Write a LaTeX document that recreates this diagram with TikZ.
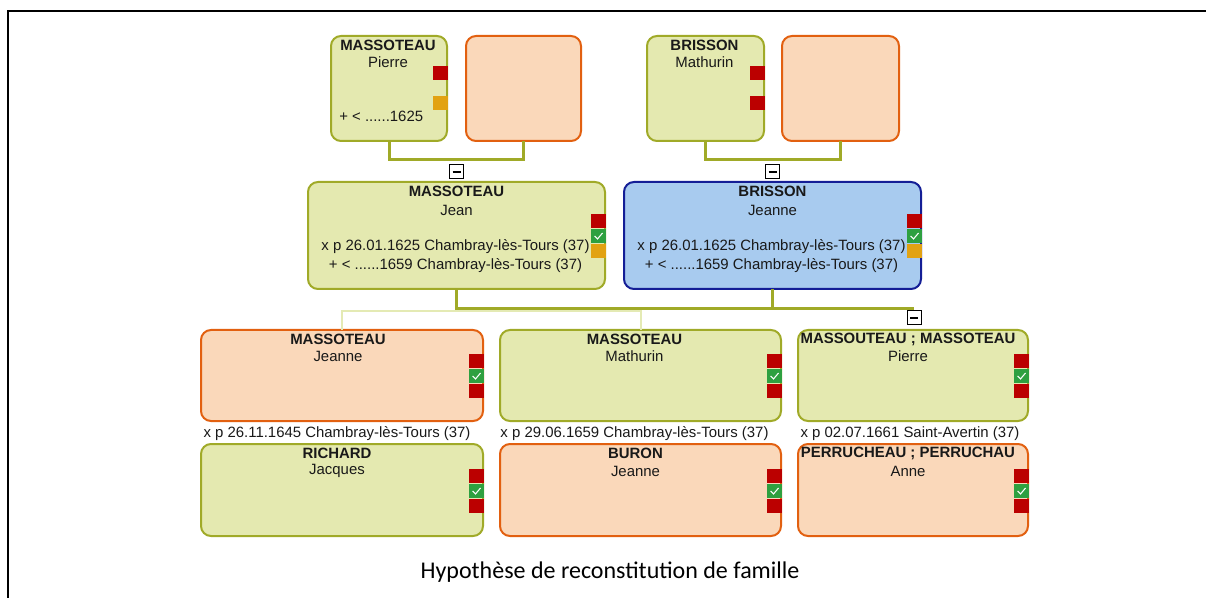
\documentclass[tikz,border=0pt]{standalone}
\usepackage{fontspec}
\setmainfont{Liberation Sans}
\newfontfamily\capfont{Carlito}
\usetikzlibrary{calc}
\definecolor{gfill}{RGB}{228,233,176}
\definecolor{gline}{RGB}{160,170,40}
\definecolor{ofill}{RGB}{250,216,186}
\definecolor{oline}{RGB}{226,96,16}
\definecolor{bfill}{RGB}{168,203,239}
\definecolor{bline}{RGB}{20,30,150}
\definecolor{mred}{RGB}{187,0,0}
\definecolor{mgreen}{RGB}{46,160,64}
\definecolor{morange}{RGB}{226,162,18}
\definecolor{pale}{RGB}{228,234,180}
\definecolor{txt}{RGB}{25,25,25}
\newcommand\famMk[4]{\node[#4] (#2) at ($(#1.north east)+(1,#3)$) {};}
\newcommand\famChk[1]{\draw[chk] ($(#1.center)+(-4,0)$) -- ($(#1.center)+(-1,3)$) -- ($(#1.center)+(4,-3)$);}
\begin{document}
\begin{tikzpicture}[x=0.75pt,y=-0.75pt,
  fbox/.style={rectangle, rounded corners=7.5pt, line width=1.5pt, outer sep=0pt, inner sep=0pt, anchor=north west},
  gbox/.style={fbox, draw=gline, fill=gfill},
  obox/.style={fbox, draw=oline, fill=ofill},
  bbox/.style={fbox, draw=bline, fill=bfill},
  sname/.style={font=\fontsize{11.2}{12}\selectfont\bfseries, text=txt, inner sep=0pt},
  fname/.style={font=\fontsize{11.2}{12}\selectfont, text=txt, inner sep=0pt},
  evt/.style={font=\fontsize{11.2}{14.2}\selectfont, text=txt, inner sep=0pt, align=center},
  mk/.style={rectangle, minimum width=15*0.75pt, minimum height=14*0.75pt, inner sep=0pt, outer sep=0pt, anchor=north east},
  mkr/.style={mk, fill=mred},
  mkg/.style={mk, fill=mgreen},
  mko/.style={mk, fill=morange},
  chk/.style={white, line width=0.8pt},
  conn/.style={draw=gline, line width=2.25pt},
  paleconn/.style={draw=pale, line width=1.5pt},
  minus/.style={draw=black, fill=white, line width=0.75pt, minimum size=14*0.75pt, inner sep=0pt, outer sep=0pt}
]
\useasboundingbox (0,0) rectangle (1206,598);
% frame
\draw[line width=1.5pt] (8,598) -- (8,11) -- (1206,11);

% generation 1
\node[gbox, minimum width=116*0.75pt, minimum height=105*0.75pt] (pierre) at (331,36) {};
\node[obox, minimum width=115*0.75pt, minimum height=105*0.75pt] (pierreW) at (466,36) {};
\node[gbox, minimum width=117*0.75pt, minimum height=105*0.75pt] (mathB) at (647,36) {};
\node[obox, minimum width=117*0.75pt, minimum height=105*0.75pt] (mathBW) at (782,36) {};

\node[sname] (pierre-s) at ($(pierre.north)+(-1,9)$) {MASSOTEAU};
\node[fname] (pierre-f) at ($(pierre.north)+(-1,26)$) {Pierre};
\node[fname, anchor=west] (pierre-e) at ($(pierre.north west)+(8,80)$) {+ < ......1625};
\famMk{pierre}{pierre-m1}{30}{mkr}
\famMk{pierre}{pierre-m2}{60}{mko}

\node[sname] (mathB-s) at ($(mathB.north)+(-1,9)$) {BRISSON};
\node[fname] (mathB-f) at ($(mathB.north)+(-1,26)$) {Mathurin};
\famMk{mathB}{mathB-m1}{30}{mkr}
\famMk{mathB}{mathB-m2}{60}{mkr}

% generation 2
\node[gbox, minimum width=297*0.75pt, minimum height=107*0.75pt] (jean) at (308,182) {};
\node[bbox, minimum width=297*0.75pt, minimum height=107*0.75pt] (jeanne) at (624,182) {};

\node[sname] (jean-s) at ($(jean.north)+(0,9)$) {MASSOTEAU};
\node[fname] (jean-f) at ($(jean.north)+(0,28)$) {Jean};
\node[evt] (jean-e) at ($(jean.north)+(-1,74)$) {x p 26.01.1625 Chambray-lès-Tours (37)\\+ < ......1659 Chambray-lès-Tours (37)};
\famMk{jean}{jean-m1}{32}{mkr}
\famMk{jean}{jean-m2}{47}{mkg}
\famMk{jean}{jean-m3}{62}{mko}
\famChk{jean-m2}

\node[sname] (jeanne-s) at ($(jeanne.north)+(0,9)$) {BRISSON};
\node[fname] (jeanne-f) at ($(jeanne.north)+(0,28)$) {Jeanne};
\node[evt] (jeanne-e) at ($(jeanne.north)+(-1,74)$) {x p 26.01.1625 Chambray-lès-Tours (37)\\+ < ......1659 Chambray-lès-Tours (37)};
\famMk{jeanne}{jeanne-m1}{32}{mkr}
\famMk{jeanne}{jeanne-m2}{47}{mkg}
\famMk{jeanne}{jeanne-m3}{62}{mko}
\famChk{jeanne-m2}

% connectors generation 1 -> 2
\draw[conn] (pierre.south) -- ++(0,19) -| (pierreW.south);
\draw[conn] (mathB.south) -- ++(0,19) -| (mathBW.south);
\node[minus] (minus1) at ($(jean.north)+(0,-10)$) {\rule{6pt}{0.9pt}};
\node[minus] (minus2) at ($(jeanne.north)+(0,-10)$) {\rule{6pt}{0.9pt}};

% generation 3
\node[obox, minimum width=282*0.75pt, minimum height=91*0.75pt] (c1) at (201,330) {};
\node[gbox, minimum width=281*0.75pt, minimum height=91*0.75pt] (c2) at (500,330) {};
\node[gbox, minimum width=230*0.75pt, minimum height=91*0.75pt] (c3) at (798,330) {};

\node[sname] (c1-s) at ($(c1.north)+(-4,9)$) {MASSOTEAU};
\node[fname] (c1-f) at ($(c1.north)+(-4,26)$) {Jeanne};
\node[sname] (c2-s) at ($(c2.north)+(-6,9)$) {MASSOTEAU};
\node[fname] (c2-f) at ($(c2.north)+(-6,26)$) {Mathurin};
\node[sname] (c3-s) at ($(c3.north)+(-5,9)$) {MASSOUTEAU ; MASSOTEAU};
\node[fname] (c3-f) at ($(c3.north)+(-5,26)$) {Pierre};
\foreach \b in {c1,c2,c3}{
  \famMk{\b}{\b-m1}{24}{mkr}
  \famMk{\b}{\b-m2}{39}{mkg}
  \famMk{\b}{\b-m3}{54}{mkr}
  \famChk{\b-m2}
}

% marriages
\node[fname] (x1) at ($(c1.south)+(-5,13)$) {x p 26.11.1645 Chambray-lès-Tours (37)};
\node[fname] (x2) at ($(c2.south)+(-6,13)$) {x p 29.06.1659 Chambray-lès-Tours (37)};
\node[fname] (x3) at ($(c3.south)+(-3,13)$) {x p 02.07.1661 Saint-Avertin (37)};

% spouses
\node[gbox, minimum width=282*0.75pt, minimum height=92*0.75pt] (s1) at (201,444) {};
\node[obox, minimum width=281*0.75pt, minimum height=92*0.75pt] (s2) at (500,444) {};
\node[obox, minimum width=230*0.75pt, minimum height=92*0.75pt] (s3) at (798,444) {};

\node[sname] (s1-s) at ($(s1.north)+(-5,9)$) {RICHARD};
\node[fname] (s1-f) at ($(s1.north)+(-5,27)$) {Jacques};
\node[sname] (s2-s) at ($(s2.north)+(-5,9)$) {BURON};
\node[fname] (s2-f) at ($(s2.north)+(-5,27)$) {Jeanne};
\node[sname] (s3-s) at ($(s3.north)+(-5,9)$) {PERRUCHEAU ; PERRUCHAU};
\node[fname] (s3-f) at ($(s3.north)+(-5,27)$) {Anne};
\foreach \b in {s1,s2,s3}{
  \famMk{\b}{\b-m1}{25}{mkr}
  \famMk{\b}{\b-m2}{40}{mkg}
  \famMk{\b}{\b-m3}{55}{mkr}
  \famChk{\b-m2}
}

% connectors generation 2 -> 3
\coordinate (paleY) at (0,311);
\coordinate (famEnd) at (914,309);
\draw[paleconn] (c1.north) |- (c2.north |- paleY) -- (c2.north);
\draw[conn] (jean.south) |- (famEnd);
\draw[conn] (jeanne.south) -- (jeanne.south |- famEnd);
\node[minus] (minus3) at ($(c3.north)+(1,-12)$) {\rule{6pt}{0.9pt}};

% caption
\node[font=\capfont\fontsize{18}{21}\selectfont, inner sep=0pt] (cap) at (610,572) {Hypothèse de reconstitution de famille};
\end{tikzpicture}
\end{document}
